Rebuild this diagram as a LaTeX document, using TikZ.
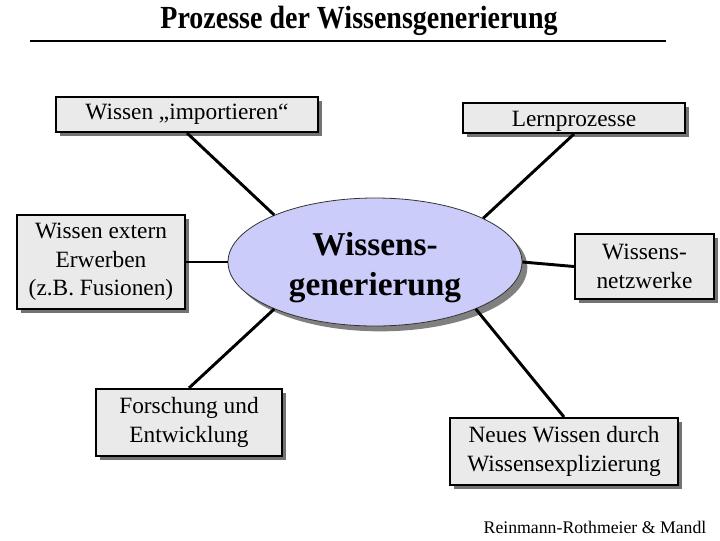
\documentclass[tikz,border=0pt]{standalone}
\usepackage{fontspec}
\setmainfont{Liberation Serif}
\usetikzlibrary{shapes.geometric,shadows}
\definecolor{boxgray}{RGB}{234,234,234}
\definecolor{ellfill}{RGB}{204,204,250}
\tikzset{
  box/.style={draw=black, line width=1.5pt, fill=boxgray, align=center, inner sep=0pt,
    font=\fontsize{17.5pt}{21.5pt}\selectfont,
    drop shadow={shadow xshift=3pt, shadow yshift=-3pt, fill=black!55, opacity=1}},
  ell/.style={ellipse, draw=black!80, line width=0.6pt, fill=ellfill, align=center, inner sep=0pt,
    font=\fontsize{25pt}{30pt}\selectfont\bfseries,
    drop shadow={shadow xshift=4pt, shadow yshift=-4pt, fill=black!50, opacity=1}},
  conn/.style={line width=2.2pt, draw=black}
}
\begin{document}
\begin{tikzpicture}[x=0.75pt,y=-0.75pt]
\useasboundingbox (0,0) rectangle (720,540);
\node[font=\fontsize{21pt}{24pt}\selectfont\bfseries] (title) at (359,21) {\scalebox{1}[1.15]{Prozesse der Wissensgenerierung}};
\coordinate (ulL) at (30,41);
\coordinate (ulR) at (666,41);
\draw[line width=1.6pt] (ulL) -- (ulR);

\node[ell, minimum width=220.5pt, minimum height=96pt] (gen) at (375,262) {\raisebox{-10pt}[0pt][0pt]{\begin{tabular}{@{}c@{}}Wissens-\\generierung\end{tabular}}};

\node[box, minimum width=196.5pt, minimum height=26.25pt] (imp) at (187,114.5) {Wissen „importieren“};
\node[box, minimum width=166.5pt, minimum height=22.5pt] (lern) at (574,118) {\raisebox{-6.5pt}[0pt][0pt]{Lernprozesse}};
\node[box, minimum width=104.25pt, minimum height=48.75pt] (netz) at (644.5,266.5) {Wissens-\\netzwerke};
\node[box, minimum width=126pt, minimum height=70.5pt] (ext) at (101,262) {Wissen extern\\Erwerben\\(z.B. Fusionen)};
\node[box, minimum width=139.5pt, minimum height=50.25pt] (fe) at (189,422.5) {Forschung und\\Entwicklung};
\node[box, minimum width=171pt, minimum height=50.25pt] (neu) at (564,451.5) {Neues Wissen durch\\Wissensexplizierung};

\draw[conn] (imp.south) -- (gen.155.5);
\draw[conn] (lern.south) -- (gen.22.2);
\draw[conn] (gen.0) -- (netz.west);
\draw[conn] (ext.east) -- (gen.180);
\draw[conn] (fe.north) -- (gen.205);
\draw[conn] (neu.north) -- (gen.335.6);

\node[font=\fontsize{13.3pt}{15pt}\selectfont] (credit) at (595,527) {Reinmann-Rothmeier \& Mandl};
\end{tikzpicture}
\end{document}
